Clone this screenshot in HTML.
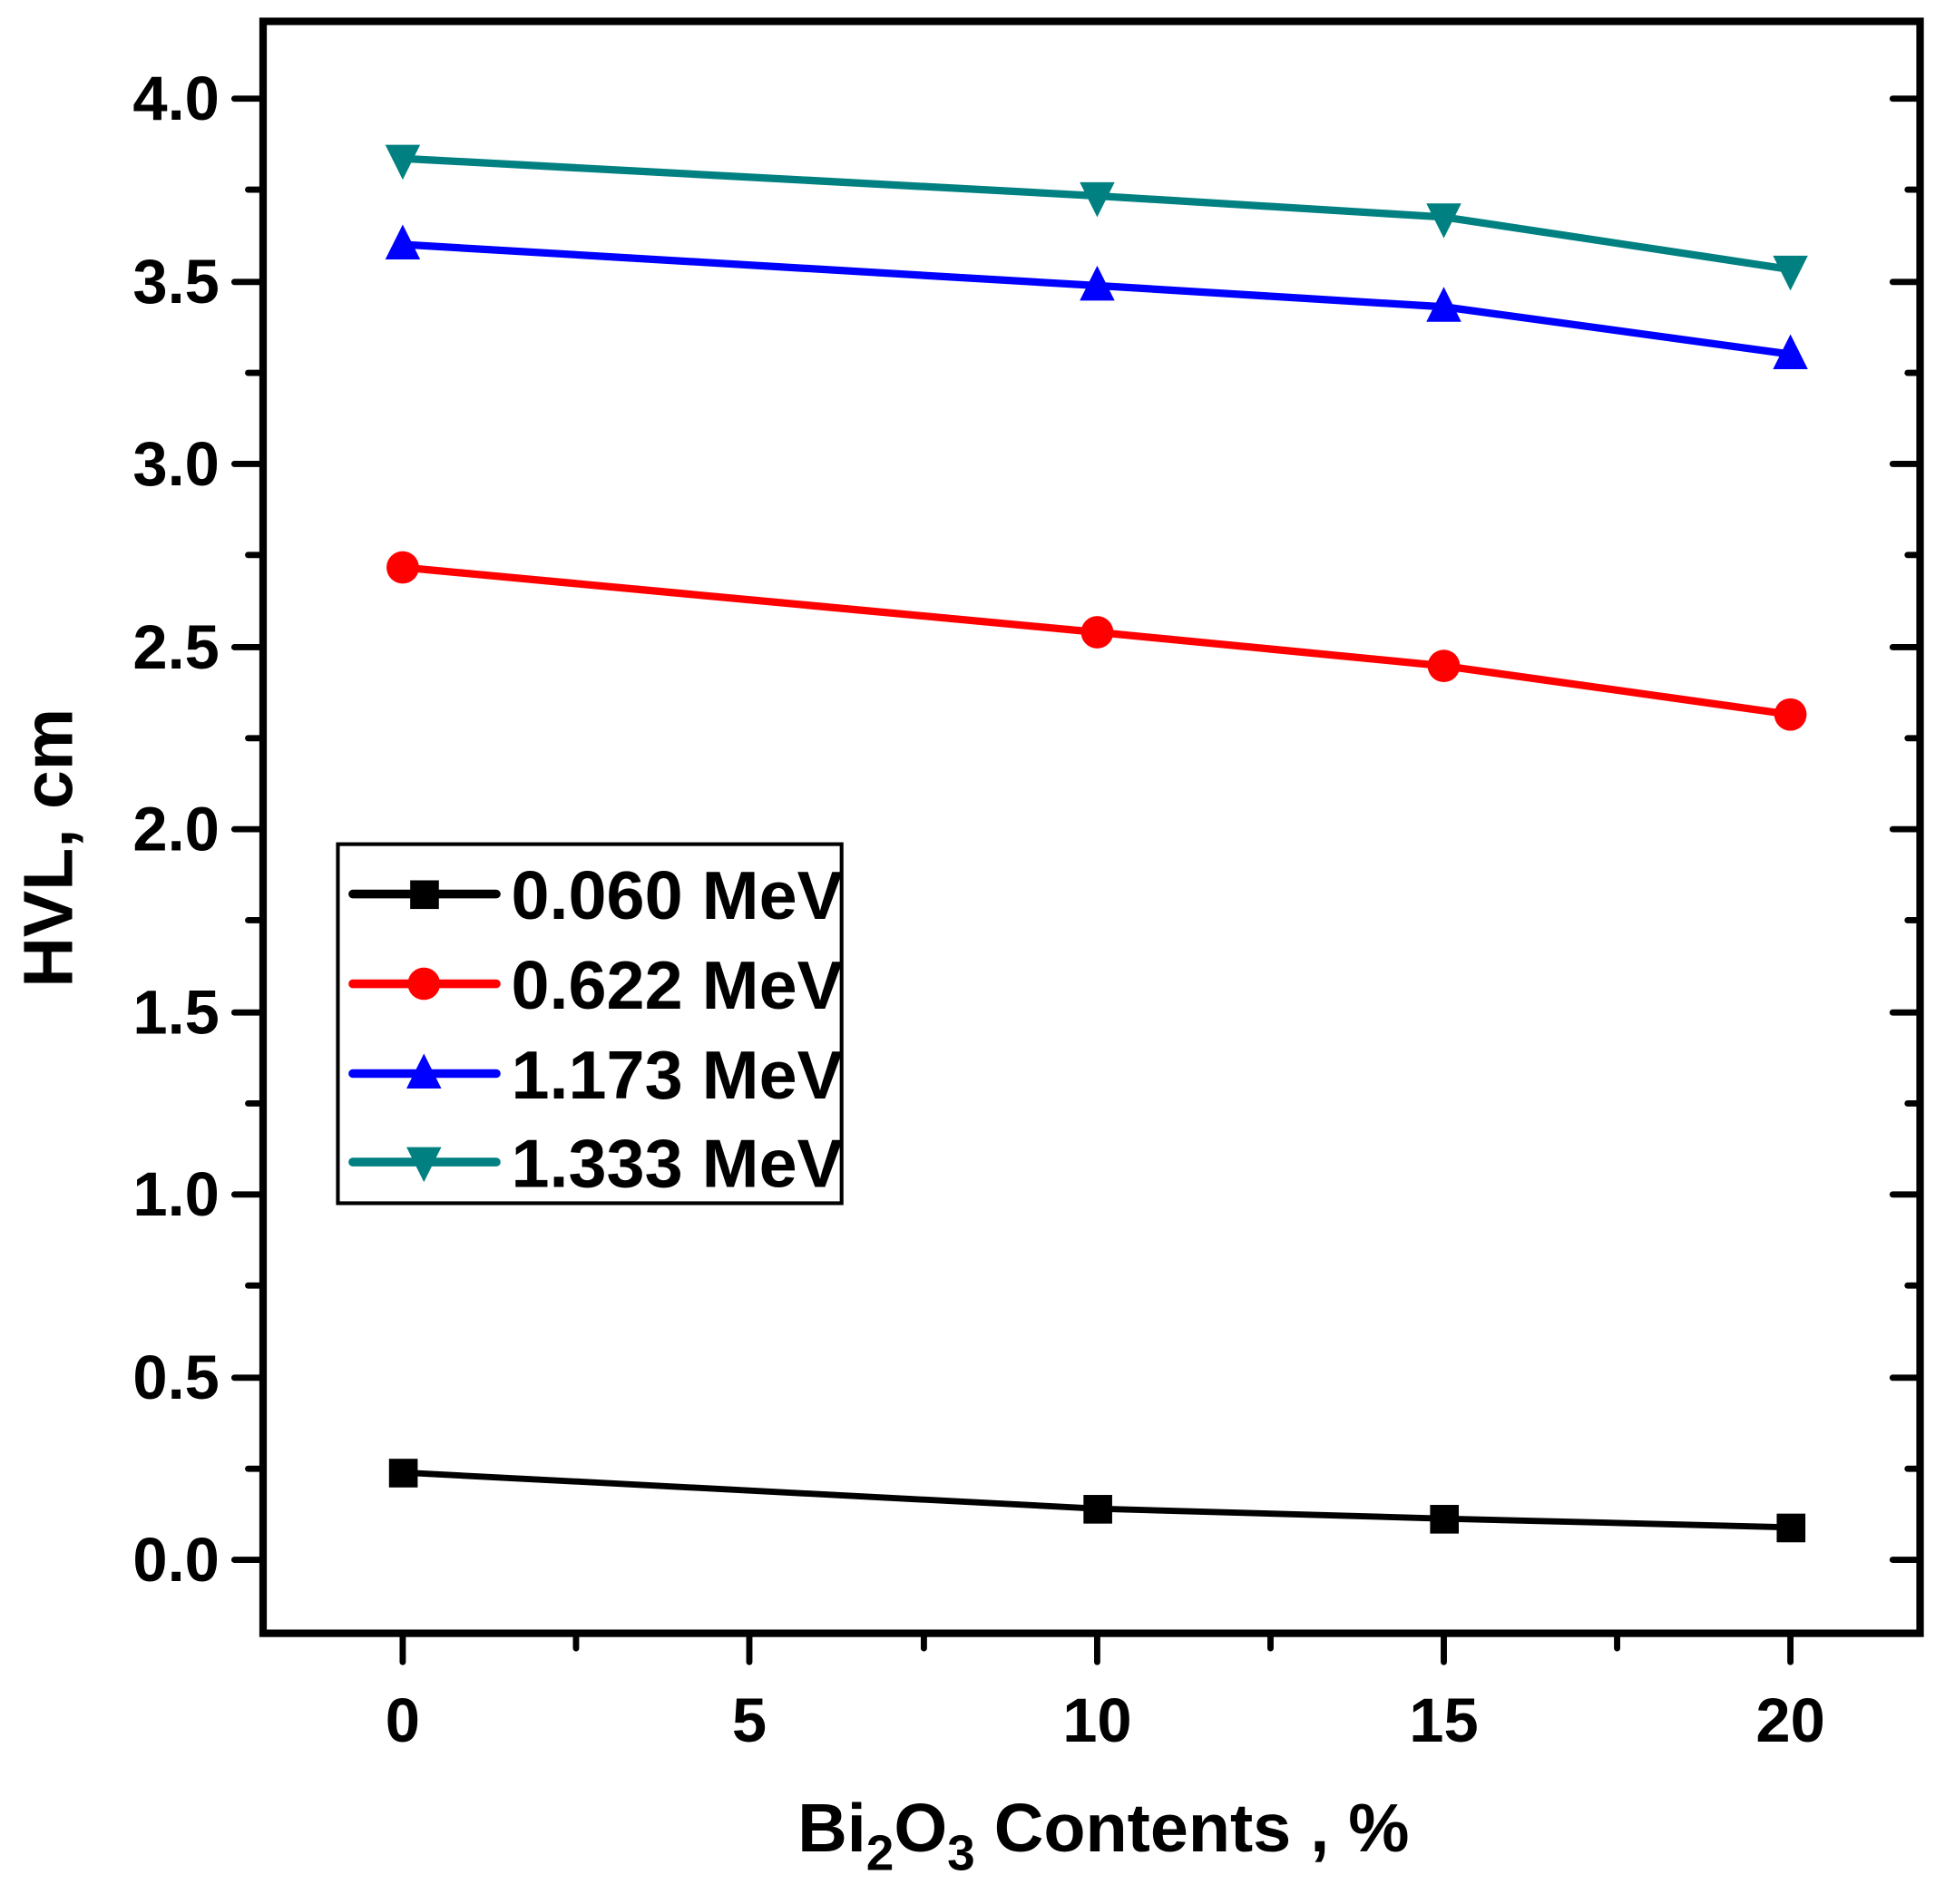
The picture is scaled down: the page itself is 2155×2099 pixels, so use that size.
<!DOCTYPE html>
<html><head><style>html,body{margin:0;padding:0;background:#fff}svg{display:block}</style></head>
<body>
<svg width="2155" height="2099" viewBox="0 0 1568 1527" xmlns="http://www.w3.org/2000/svg" font-family="Liberation Sans, Arial, sans-serif" font-weight="bold">
<rect width="1568" height="1527" fill="#fff"/>
<g stroke="#000" stroke-width="5" stroke-linecap="round">
<line x1="188" y1="1251" x2="211" y2="1251"/><line x1="188" y1="1105" x2="211" y2="1105"/><line x1="188" y1="958" x2="211" y2="958"/><line x1="188" y1="812" x2="211" y2="812"/><line x1="188" y1="665" x2="211" y2="665"/><line x1="188" y1="519" x2="211" y2="519"/><line x1="188" y1="372" x2="211" y2="372"/><line x1="188" y1="226" x2="211" y2="226"/><line x1="188" y1="79" x2="211" y2="79"/>
<line x1="199" y1="1178" x2="211" y2="1178"/><line x1="199" y1="1031" x2="211" y2="1031"/><line x1="199" y1="885" x2="211" y2="885"/><line x1="199" y1="738" x2="211" y2="738"/><line x1="199" y1="592" x2="211" y2="592"/><line x1="199" y1="445" x2="211" y2="445"/><line x1="199" y1="299" x2="211" y2="299"/><line x1="199" y1="152" x2="211" y2="152"/>
<line x1="1518" y1="1251" x2="1540" y2="1251"/><line x1="1518" y1="1105" x2="1540" y2="1105"/><line x1="1518" y1="958" x2="1540" y2="958"/><line x1="1518" y1="812" x2="1540" y2="812"/><line x1="1518" y1="665" x2="1540" y2="665"/><line x1="1518" y1="519" x2="1540" y2="519"/><line x1="1518" y1="372" x2="1540" y2="372"/><line x1="1518" y1="226" x2="1540" y2="226"/><line x1="1518" y1="79" x2="1540" y2="79"/>
<line x1="1530" y1="1178" x2="1540" y2="1178"/><line x1="1530" y1="1031" x2="1540" y2="1031"/><line x1="1530" y1="885" x2="1540" y2="885"/><line x1="1530" y1="738" x2="1540" y2="738"/><line x1="1530" y1="592" x2="1540" y2="592"/><line x1="1530" y1="445" x2="1540" y2="445"/><line x1="1530" y1="299" x2="1540" y2="299"/><line x1="1530" y1="152" x2="1540" y2="152"/>
<line x1="323" y1="1310" x2="323" y2="1333"/><line x1="601" y1="1310" x2="601" y2="1333"/><line x1="880" y1="1310" x2="880" y2="1333"/><line x1="1158" y1="1310" x2="1158" y2="1333"/><line x1="1436" y1="1310" x2="1436" y2="1333"/>
<line x1="462" y1="1310" x2="462" y2="1322"/><line x1="741" y1="1310" x2="741" y2="1322"/><line x1="1019" y1="1310" x2="1019" y2="1322"/><line x1="1297" y1="1310" x2="1297" y2="1322"/>
</g>
<rect x="211" y="17" width="1329" height="1293" fill="none" stroke="#000" stroke-width="6"/>
<g font-size="50" text-anchor="end">
<text x="176" y="1268">0.0</text><text x="176" y="1122">0.5</text><text x="176" y="975">1.0</text><text x="176" y="829">1.5</text><text x="176" y="682">2.0</text><text x="176" y="536">2.5</text><text x="176" y="389">3.0</text><text x="176" y="243">3.5</text><text x="176" y="96">4.0</text>
</g>
<g font-size="50" text-anchor="middle">
<text x="323" y="1397">0</text><text x="601" y="1397">5</text><text x="880" y="1397">10</text><text x="1158" y="1397">15</text><text x="1436" y="1397">20</text>
</g>
<text x="885" y="1485" font-size="55" text-anchor="middle">Bi<tspan font-size="40" dy="15">2</tspan><tspan dy="-15">O</tspan><tspan font-size="40" dy="15">3</tspan><tspan dy="-15"> Contents , %</tspan></text>
<text transform="translate(58,680) rotate(-90)" font-size="56" text-anchor="middle">HVL, cm</text>
<polyline points="323,1181 880,1210 1158,1218 1436,1225" fill="none" stroke="#000" stroke-width="5"/>
<g fill="#000"><rect x="312" y="1170" width="23" height="23"/><rect x="869" y="1199" width="23" height="23"/><rect x="1147" y="1207" width="23" height="23"/><rect x="1425" y="1214" width="23" height="23"/></g>
<polyline points="323,455 880,507 1158,534 1436,573" fill="none" stroke="#f00" stroke-width="6"/>
<g fill="#f00"><circle cx="323" cy="455" r="13"/><circle cx="880" cy="507" r="13"/><circle cx="1158" cy="534" r="13"/><circle cx="1436" cy="573" r="13"/></g>
<polyline points="323,196 880,229 1158,246 1436,284" fill="none" stroke="#00f" stroke-width="6"/>
<g fill="#00f"><polygon points="323,180 309,208 337,208"/><polygon points="880,213 866,241 894,241"/><polygon points="1158,230 1144,258 1172,258"/><polygon points="1436,268 1422,296 1450,296"/></g>
<polyline points="323,127 880,157 1158,174 1436,216" fill="none" stroke="#008080" stroke-width="6"/>
<g fill="#008080"><polygon points="309,116 337,116 323,144"/><polygon points="866,146 894,146 880,174"/><polygon points="1144,163 1172,163 1158,191"/><polygon points="1422,205 1450,205 1436,233"/></g>
<rect x="271" y="677" width="404" height="288" fill="#fff" stroke="#000" stroke-width="3"/>
<g stroke-width="7" stroke-linecap="round">
<line x1="283" y1="717" x2="398" y2="717" stroke="#000"/><line x1="283" y1="789" x2="398" y2="789" stroke="#f00"/><line x1="283" y1="861" x2="398" y2="861" stroke="#00f"/><line x1="283" y1="932" x2="398" y2="932" stroke="#008080"/>
</g>
<rect x="329" y="706" width="23" height="23" fill="#000"/>
<circle cx="340" cy="789" r="13" fill="#f00"/>
<polygon points="340,845 326,873 354,873" fill="#00f"/>
<polygon points="326,920 354,920 340,948" fill="#008080"/>
<g font-size="55">
<text x="410" y="737">0.060 MeV</text><text x="410" y="809">0.622 MeV</text><text x="410" y="881">1.173 MeV</text><text x="410" y="952">1.333 MeV</text>
</g>
</svg>
</body></html>
